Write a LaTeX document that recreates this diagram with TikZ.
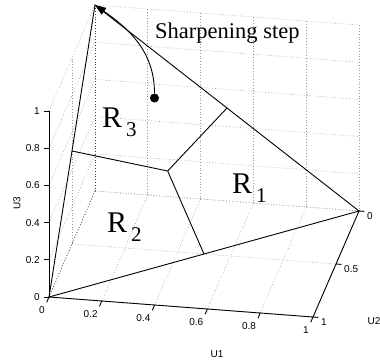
\documentclass[tikz,border=0pt]{standalone}
\usepackage{fontspec}
\setmainfont{Liberation Serif}
\newfontfamily\axisfont{Liberation Sans}
\usetikzlibrary{arrows.meta}
\newcommand{\regionname}[1]{R\kern4pt\raisebox{-9pt}{\fontsize{21}{21}\selectfont #1}}

\begin{document}
\begin{tikzpicture}[x={(264pt,-20pt)}, y={(-46pt,-106pt)}, z={(0pt,186pt)},
    grid line/.style={draw=black!40, line width=0.6pt, dash pattern=on 0.7pt off 2.1pt},
    edge line/.style={draw=black, line width=0.9pt},
    axis line/.style={draw=black, line width=0.9pt},
    tick label/.style={font=\axisfont\fontsize{10}{10}\selectfont, inner sep=0pt},
    region label/.style={font=\fontsize{30}{30}\selectfont, inner sep=0pt, anchor=base west}]

    \useasboundingbox (-95pt,191pt) rectangle (285pt,-171pt);

    % grille du fond
    \foreach \k in {0,0.2,0.4,0.6,0.8,1} {
        \draw[grid line] (\k,0,0) -- (\k,0,1);
        \draw[grid line] (\k,0,0) -- (\k,1,0);
        \draw[grid line] (0,0,\k) -- (1,0,\k);
        \draw[grid line] (0,0,\k) -- (0,1,\k);
    }
    \foreach \j in {0,0.5,1} {
        \draw[grid line] (0,\j,0) -- (0,\j,1);
        \draw[grid line] (0,\j,0) -- (1,\j,0);
    }
    \draw[grid line, draw=black!75] (0,0,0) -- (0,0,1);
    \draw[grid line, draw=black!75] (0,0,0) -- (0,1,0);

    % axes
    \draw[axis line] (0,1,0) -- (1,1,0);
    \draw[axis line] (1,0,0) -- (1,1,0);
    \draw[axis line] (0,1,0) -- (0,1,1);
    \foreach \k [count=\i] in {0,0.2,0.4,0.6,0.8,1} {
        \draw[axis line] (\k,1,0) -- (\k,1.05,0);
        \node[tick label, anchor=east] (xt\i) at ([shift={(-4pt,-13pt)}]\k,1,0) {\k};
        \draw[axis line] (0,1,\k) -- ++(-5pt,0pt);
        \node[tick label, anchor=east] (zt\i) at ([shift={(-9pt,0pt)}]0,1,\k) {\k};
    }
    \foreach \j [count=\i] in {0,0.5,1} {
        \draw[axis line] (1,\j,0) -- (1.02,\j,0);
        \node[tick label, anchor=west] (yt\i) at ([shift={(8pt,-5pt)}]1,\j,0) {\j};
    }
    \node[tick label] (u1) at (122pt,-163pt) {U1};
    \node[tick label] (u2) at (279pt,-130pt) {U2};
    \node[tick label, rotate=90] (u3) at (-78pt,-12pt) {U3};

    % simplexe et regions
    \coordinate (v1) at (1,0,0);
    \coordinate (v2) at (0,1,0);
    \coordinate (v3) at (0,0,1);
    \coordinate (m12) at (0.5,0.5,0);
    \coordinate (m13) at (0.5,0,0.5);
    \coordinate (m23) at (0,0.5,0.5);
    \coordinate (cc) at (1/3,1/3,1/3);
    \draw[edge line] (v1) -- (v2) -- (v3) -- cycle;
    \draw[edge line] (cc) -- (m12);
    \draw[edge line] (cc) -- (m13);
    \draw[edge line] (cc) -- (m23);

    \node[region label] (r1) at (137pt,-2pt) {\regionname{1}};
    \node[region label] (r2) at (12pt,-41pt) {\regionname{2}};
    \node[region label] (r3) at (7pt,64pt) {\regionname{3}};

    % fleche
    \node[font=\fontsize{22.5}{22.5}\selectfont, inner sep=0pt, anchor=base west] (sharp) at (60pt,152pt) {Sharpening step};
    \node[circle, fill=black, inner sep=0pt, minimum size=9pt] (dot) at (59.5pt,93pt) {};
    \begin{scope}[x=1cm, y=1cm]
        \draw[line width=0.9pt, -{Triangle[length=11pt,width=8pt]}] (dot) to[out=90, in=-35] (v3);
    \end{scope}
\end{tikzpicture}
\end{document}
